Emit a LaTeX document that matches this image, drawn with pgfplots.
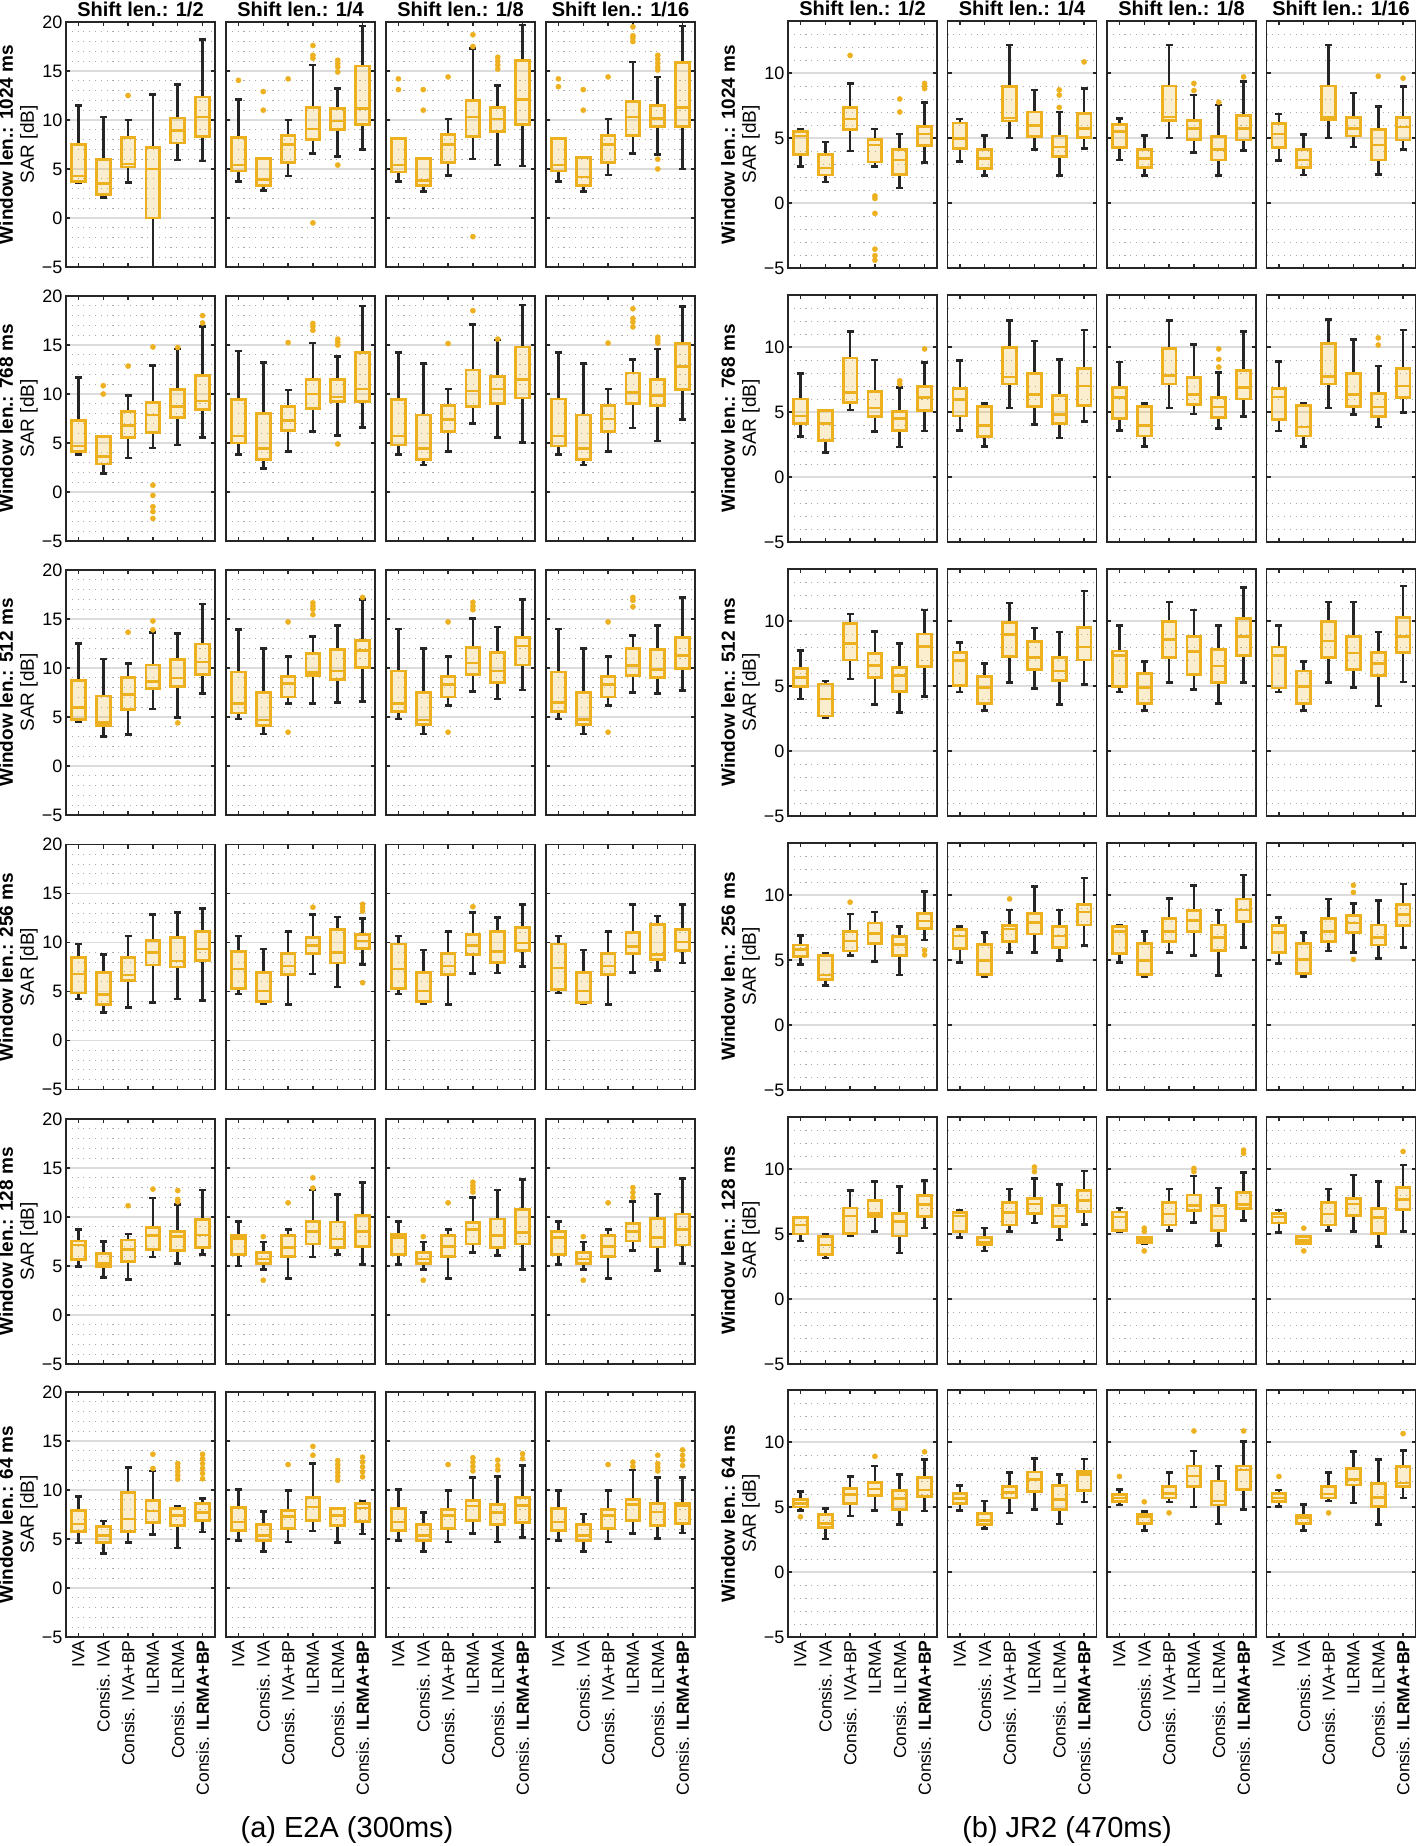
\documentclass[border=0pt]{standalone}
\usepackage{fontspec}
\setmainfont{Liberation Sans}
\usepackage{pgfplots}
\pgfplotsset{compat=1.18}
\usepgfplotslibrary{statistics}
\definecolor{bo}{HTML}{EDB120}
\definecolor{wk}{HTML}{262626}
\definecolor{gmaj}{HTML}{DCDCDC}
\definecolor{gmin}{HTML}{A8A8A8}

% one box: position, lower whisker, q1, median, q3, upper whisker
\newcommand{\bx}[6]{\addplot[boxplot prepared={draw position=#1, lower whisker=#2,
  lower quartile=#3, median=#4, upper quartile=#5, upper whisker=#6}] coordinates {};}
% outliers
\newcommand{\ol}[1]{\addplot[bo, only marks, mark=*, mark size=2.6pt,
  mark options={draw=none, fill=bo}] coordinates {#1};}

\pgfplotsset{
  sar/.style={
    scale only axis, width=149pt, anchor=north west,
    xmin=0.5, xmax=6.5, xtick={1,2,3,4,5,6}, xticklabels={},
    tick align=inside, major tick length=4pt, minor tick length=0pt,
    every tick/.style={wk, line width=1.2pt},
    axis line style={wk, line width=1.8pt},
    ymajorgrids, yminorgrids,
    major grid style={gmaj, line width=1.4pt},
    minor grid style={gmin, line width=0.9pt, dash pattern=on 1.1pt off 4.7pt},
    yticklabels={},
    ticklabel style={font=\fontsize{18}{20}\selectfont},
    /pgf/number format/assume math mode=true,
    boxplot/draw direction=y,
    boxplot/box extend=0.56, boxplot/whisker extend=0.28,
    boxplot/every box/.style={draw=bo, line width=2.8pt, fill=bo, fill opacity=0.22},
    boxplot/every whisker/.style={draw=wk, line width=2.6pt},
    boxplot/every median/.style={draw=bo, line width=2.6pt},
    ylabel style={align=center, font=\fontsize{19}{21}\selectfont, anchor=south},
    title style={font=\bfseries\fontsize{20}{22}\selectfont, at={(0.5,1)}, anchor=base, yshift=-1pt},
  },
  lft/.style={sar, height=245pt, ymin=-5, ymax=20, ytick={-5,0,5,10,15,20},
    minor ytick={-4,-3,-2,-1,1,2,3,4,6,7,8,9,11,12,13,14,16,17,18,19}},
  rgt/.style={sar, height=247pt, ymin=-5, ymax=14, ytick={-5,0,5,10},
    minor ytick={-4,-3,-2,-1,1,2,3,4,6,7,8,9,11,12,13}},
  pos/.style 2 args={at={(#1pt,-#2pt)}},
  lfirst/.style={yticklabels={−5,0,5,10,15,20},
    ylabel={\textbf{Window len.: #1 ms}\\SAR [dB]},
    ylabel style={at={(axis description cs:-0.165,0.5)}}},
  rfirst/.style={yticklabels={−5,0,5,10},
    ylabel={\textbf{Window len.: #1 ms}\\SAR [dB]},
    ylabel style={at={(axis description cs:-0.165,0.5)}}},
  bot/.style={xticklabels={IVA,Consis. IVA,Consis. IVA+BP,ILRMA,Consis. ILRMA,Consis. \textbf{ILRMA+BP}},
    xticklabel style={rotate=90, anchor=east, font=\fontsize{17.5}{19}\selectfont}},
  ttl/.style={title={Shift len.: #1}},
}

\begin{document}
\begin{tikzpicture}
\useasboundingbox (0,0) rectangle (1418pt,-1846pt);

%%%%%%%%%%%%%%%% (a) E2A %%%%%%%%%%%%%%%%
% ---- 1024 ms
\begin{axis}[lft, pos={66}{22}, lfirst=1024, ttl=1/2]
\bx{1}{3.6}{3.75}{4.3}{7.5}{11.5}
\bx{2}{2.1}{2.4}{3.5}{6.0}{10.3}
\bx{3}{3.6}{5.2}{5.5}{8.2}{10.0}
\bx{4}{-5.5}{0.0}{5.0}{7.2}{12.6}
\bx{5}{5.9}{7.65}{8.9}{10.2}{13.6}
\bx{6}{5.8}{8.3}{10.3}{12.35}{18.2}
\ol{(3,12.5)}
\end{axis}
\begin{axis}[lft, pos={226}{22}, ttl=1/4]
\bx{1}{3.7}{4.8}{5.4}{8.2}{12.1}
\bx{2}{2.8}{3.3}{3.95}{6.1}{6.1}
\bx{3}{4.3}{5.7}{7.5}{8.4}{10.0}
\bx{4}{6.6}{8.0}{9.1}{11.3}{15.6}
\bx{5}{6.3}{9.0}{9.9}{11.2}{13.2}
\bx{6}{7.0}{9.5}{11.2}{15.5}{19.6}
\ol{(1,14.05) (2,12.9) (2,11.0) (3,14.2) (4,17.6) (4,16.6) (4,16.3) (4,-0.5)
    (5,16.1) (5,15.75) (5,15.4) (5,14.9) (5,5.4)}
\end{axis}
\begin{axis}[lft, pos={386}{22}, ttl=1/8]
\bx{1}{3.7}{4.7}{5.4}{8.15}{8.15}
\bx{2}{2.7}{3.3}{3.85}{6.1}{6.1}
\bx{3}{4.35}{5.7}{7.5}{8.5}{10.1}
\bx{4}{6.0}{8.3}{10.3}{12.0}{17.3}
\bx{5}{5.4}{8.85}{10.1}{11.3}{13.5}
\bx{6}{5.3}{9.5}{12.1}{16.1}{19.7}
\ol{(1,14.2) (1,13.1) (2,13.1) (2,11.0) (3,14.4) (4,18.7) (4,17.5) (4,-1.9)
    (5,16.4) (5,16.0) (5,15.6) (5,15.2)}
\end{axis}
\begin{axis}[lft, pos={546}{22}, ttl=1/16]
\bx{1}{3.7}{4.8}{5.4}{8.1}{8.1}
\bx{2}{2.7}{3.3}{4.2}{6.2}{6.2}
\bx{3}{4.4}{5.65}{7.5}{8.45}{10.1}
\bx{4}{6.6}{8.4}{10.3}{11.9}{15.9}
\bx{5}{6.5}{9.35}{10.15}{11.5}{14.4}
\bx{6}{5.0}{9.3}{11.3}{15.85}{19.6}
\ol{(1,14.2) (1,13.4) (2,13.1) (2,11.0) (3,14.4) (4,19.5) (4,18.6) (4,18.35) (4,18.0)
    (5,16.6) (5,16.2) (5,15.8) (5,15.4) (5,15.1) (5,6.0) (5,5.0)}
\end{axis}
% ---- 768 ms
\begin{axis}[lft, pos={66}{296}, lfirst=768]
\bx{1}{3.8}{4.1}{4.7}{7.3}{11.7}
\bx{2}{1.9}{2.85}{3.6}{5.7}{5.7}
\bx{3}{3.45}{5.55}{6.8}{8.2}{9.85}
\bx{4}{4.5}{6.1}{7.85}{9.1}{12.9}
\bx{5}{4.8}{7.6}{8.7}{10.5}{14.6}
\bx{6}{5.55}{8.4}{9.3}{11.9}{16.9}
\ol{(2,10.85) (2,10.0) (3,12.85) (4,14.8) (4,0.7) (4,-0.35) (4,-1.5) (4,-2.0) (4,-2.7)
    (5,14.75) (6,18.0) (6,17.25)}
\end{axis}
\begin{axis}[lft, pos={226}{296}]
\bx{1}{3.8}{5.0}{5.7}{9.45}{14.4}
\bx{2}{2.4}{3.35}{4.45}{8.0}{13.2}
\bx{3}{4.15}{6.25}{7.3}{8.75}{10.4}
\bx{4}{6.15}{8.5}{10.0}{11.5}{15.2}
\bx{5}{5.75}{9.2}{9.7}{11.5}{13.8}
\bx{6}{6.6}{9.25}{10.5}{14.25}{19.0}
\ol{(3,15.25) (4,17.2) (4,16.9) (4,16.5) (5,15.6) (5,15.3) (5,15.0) (5,4.9)}
\end{axis}
\begin{axis}[lft, pos={386}{296}]
\bx{1}{3.85}{4.8}{5.7}{9.45}{14.25}
\bx{2}{2.75}{3.35}{4.45}{7.85}{13.1}
\bx{3}{4.15}{6.2}{7.4}{8.8}{10.5}
\bx{4}{7.0}{8.75}{10.3}{12.45}{17.1}
\bx{5}{5.55}{9.0}{10.5}{11.75}{15.5}
\bx{6}{5.05}{9.6}{11.5}{14.8}{19.1}
\ol{(3,15.15) (4,18.5) (5,15.6)}
\end{axis}
\begin{axis}[lft, pos={546}{296}]
\bx{1}{3.85}{4.7}{5.7}{9.5}{14.25}
\bx{2}{2.75}{3.35}{4.45}{7.85}{13.1}
\bx{3}{4.15}{6.2}{7.45}{8.8}{10.5}
\bx{4}{6.55}{9.0}{10.15}{12.15}{13.55}
\bx{5}{5.2}{8.85}{9.85}{11.45}{14.6}
\bx{6}{7.4}{10.5}{12.8}{15.15}{18.95}
\ol{(3,15.2) (4,18.7) (4,17.7) (4,17.35) (4,16.85) (5,15.8) (5,15.5) (5,15.2)}
\end{axis}
% ---- 512 ms
\begin{axis}[lft, pos={66}{570}, lfirst=512]
\bx{1}{4.5}{4.75}{6.0}{8.75}{12.5}
\bx{2}{3.0}{4.1}{4.45}{7.15}{10.9}
\bx{3}{3.2}{5.75}{7.3}{9.0}{10.45}
\bx{4}{5.8}{7.9}{8.65}{10.3}{13.65}
\bx{5}{4.95}{8.1}{9.0}{10.85}{13.5}
\bx{6}{7.4}{9.35}{10.6}{12.45}{16.55}
\ol{(3,13.65) (4,14.8) (4,13.9) (5,4.4)}
\end{axis}
\begin{axis}[lft, pos={226}{570}]
\bx{1}{4.8}{5.4}{6.35}{9.6}{13.9}
\bx{2}{3.25}{4.1}{4.7}{7.5}{12.0}
\bx{3}{6.35}{7.05}{8.4}{9.1}{11.15}
\bx{4}{6.35}{9.2}{9.55}{11.45}{13.2}
\bx{5}{6.5}{8.85}{9.7}{11.9}{14.35}
\bx{6}{6.6}{10.05}{11.8}{12.8}{17.0}
\ol{(3,14.7) (3,3.45) (4,16.65) (4,16.3) (4,16.0) (4,15.45) (6,17.2)}
\end{axis}
\begin{axis}[lft, pos={386}{570}]
\bx{1}{4.8}{5.6}{6.4}{9.7}{14.0}
\bx{2}{3.25}{4.25}{4.7}{7.5}{12.0}
\bx{3}{6.2}{7.05}{8.3}{9.15}{11.15}
\bx{4}{7.6}{9.35}{10.5}{12.1}{15.05}
\bx{5}{6.85}{8.55}{9.7}{11.6}{14.2}
\bx{6}{7.75}{10.3}{12.25}{13.15}{17.0}
\ol{(3,14.7) (3,3.45) (4,16.7) (4,16.3) (4,15.95)}
\end{axis}
\begin{axis}[lft, pos={546}{570}]
\bx{1}{4.8}{5.55}{6.45}{9.6}{14.0}
\bx{2}{3.25}{4.25}{4.75}{7.5}{12.0}
\bx{3}{6.2}{7.05}{8.3}{9.15}{11.15}
\bx{4}{7.5}{9.25}{10.25}{12.0}{13.3}
\bx{5}{7.4}{9.0}{9.85}{11.85}{14.35}
\bx{6}{7.7}{9.95}{11.3}{13.15}{17.2}
\ol{(3,14.7) (3,3.45) (4,17.2) (4,16.9) (4,16.25)}
\end{axis}
% ---- 256 ms
\begin{axis}[lft, pos={66}{844.5}, lfirst=256]
\bx{1}{4.25}{4.85}{6.8}{8.5}{9.85}
\bx{2}{2.85}{3.65}{4.7}{6.9}{8.8}
\bx{3}{3.35}{6.15}{6.7}{8.5}{10.65}
\bx{4}{3.9}{7.7}{9.0}{10.2}{12.85}
\bx{5}{4.25}{7.5}{8.1}{10.5}{13.05}
\bx{6}{4.1}{8.2}{9.35}{11.15}{13.5}
\end{axis}
\begin{axis}[lft, pos={226}{844.5}]
\bx{1}{4.75}{5.3}{7.3}{9.1}{10.65}
\bx{2}{3.8}{4.0}{5.05}{6.9}{9.35}
\bx{3}{3.65}{6.7}{7.6}{8.9}{11.15}
\bx{4}{6.8}{8.85}{9.7}{10.55}{12.85}
\bx{5}{5.45}{7.9}{9.0}{11.35}{12.6}
\bx{6}{7.75}{9.35}{10.15}{10.85}{12.45}
\ol{(4,13.6) (6,13.9) (6,13.55) (6,13.2) (6,5.9)}
\end{axis}
\begin{axis}[lft, pos={386}{844.5}]
\bx{1}{4.75}{5.3}{7.3}{9.85}{10.65}
\bx{2}{3.75}{4.0}{5.05}{6.9}{9.25}
\bx{3}{3.65}{6.7}{7.6}{8.9}{11.15}
\bx{4}{6.85}{8.8}{9.7}{10.85}{13.05}
\bx{5}{6.9}{7.95}{9.1}{11.1}{12.55}
\bx{6}{7.55}{9.15}{9.95}{11.55}{13.85}
\ol{(4,13.65)}
\end{axis}
\begin{axis}[lft, pos={546}{844.5}]
\bx{1}{4.85}{5.2}{7.4}{9.85}{10.65}
\bx{2}{3.8}{3.9}{5.05}{6.9}{9.25}
\bx{3}{3.65}{6.7}{7.6}{8.9}{11.15}
\bx{4}{6.95}{8.85}{9.6}{11.0}{13.85}
\bx{5}{7.15}{8.25}{8.75}{11.85}{12.7}
\bx{6}{7.9}{9.15}{10.05}{11.3}{13.85}
\end{axis}
% ---- 128 ms
\begin{axis}[lft, pos={66}{1119}, lfirst=128]
\bx{1}{4.95}{5.7}{7.15}{7.55}{8.75}
\bx{2}{3.8}{4.95}{5.25}{6.3}{7.5}
\bx{3}{3.65}{5.5}{6.7}{7.65}{8.25}
\bx{4}{5.9}{6.7}{8.1}{8.95}{11.95}
\bx{5}{5.25}{6.55}{8.0}{8.55}{11.3}
\bx{6}{6.2}{6.9}{8.15}{9.75}{12.75}
\ol{(3,11.15) (4,12.85) (5,12.7) (5,11.8) (5,11.55)}
\end{axis}
\begin{axis}[lft, pos={226}{1119}]
\bx{1}{5.0}{6.2}{7.8}{8.1}{9.55}
\bx{2}{4.65}{5.25}{5.7}{6.35}{7.45}
\bx{3}{3.75}{5.95}{6.9}{8.1}{8.75}
\bx{4}{5.9}{7.25}{8.5}{9.55}{12.75}
\bx{5}{6.2}{6.85}{7.75}{9.5}{12.3}
\bx{6}{5.15}{7.0}{8.5}{10.15}{13.5}
\ol{(2,8.0) (2,3.55) (3,11.45) (4,14.0) (4,12.95)}
\end{axis}
\begin{axis}[lft, pos={386}{1119}]
\bx{1}{5.15}{6.15}{7.9}{8.25}{9.55}
\bx{2}{4.65}{5.25}{5.7}{6.35}{7.45}
\bx{3}{3.75}{5.95}{7.0}{8.1}{8.75}
\bx{4}{6.35}{7.25}{8.7}{9.4}{12.0}
\bx{5}{6.1}{6.9}{8.1}{9.8}{12.75}
\bx{6}{4.65}{7.25}{8.4}{10.8}{13.8}
\ol{(2,8.0) (2,3.55) (3,11.45) (4,13.55) (4,13.2) (4,12.9) (4,12.55)}
\end{axis}
\begin{axis}[lft, pos={546}{1119}]
\bx{1}{5.15}{6.15}{7.9}{8.5}{9.55}
\bx{2}{4.65}{5.25}{5.7}{6.35}{7.45}
\bx{3}{3.75}{5.95}{7.0}{8.1}{8.75}
\bx{4}{6.6}{7.55}{8.5}{9.3}{11.6}
\bx{5}{4.55}{6.95}{7.9}{9.85}{12.35}
\bx{6}{5.25}{7.15}{8.7}{10.3}{13.9}
\ol{(2,8.0) (2,3.55) (3,11.45) (4,13.0) (4,12.5) (4,12.0)}
\end{axis}
% ---- 64 ms
\begin{axis}[lft, pos={66}{1392}, lfirst=64, bot]
\bx{1}{4.6}{5.8}{6.55}{7.95}{9.35}
\bx{2}{3.55}{4.65}{5.35}{6.3}{6.85}
\bx{3}{4.65}{5.8}{7.05}{9.75}{12.3}
\bx{4}{5.45}{6.65}{7.85}{8.9}{11.95}
\bx{5}{4.1}{6.35}{7.4}{8.15}{8.35}
\bx{6}{5.7}{6.85}{7.7}{8.6}{9.15}
\ol{(4,13.65) (4,12.2) (5,12.7) (5,12.3) (5,11.9) (5,11.5) (5,11.1)
    (6,13.65) (6,13.2) (6,12.7) (6,12.2) (6,11.7) (6,11.15)}
\end{axis}
\begin{axis}[lft, pos={226}{1392}, bot]
\bx{1}{4.85}{5.9}{6.75}{8.2}{10.05}
\bx{2}{3.75}{4.85}{5.35}{6.45}{7.8}
\bx{3}{4.7}{6.1}{7.3}{7.95}{9.95}
\bx{4}{5.8}{6.85}{8.25}{9.2}{12.7}
\bx{5}{4.65}{6.4}{7.4}{8.1}{8.15}
\bx{6}{5.5}{6.8}{8.15}{8.65}{8.8}
\ol{(3,12.6) (4,14.45) (4,13.55) (5,13.0) (5,12.6) (5,12.2) (5,11.8) (5,11.4) (5,11.0)
    (6,13.35) (6,12.85) (6,12.35) (6,11.85) (6,11.35)}
\end{axis}
\begin{axis}[lft, pos={386}{1392}, bot]
\bx{1}{4.85}{5.9}{6.75}{8.15}{10.05}
\bx{2}{3.75}{4.85}{5.35}{6.45}{7.7}
\bx{3}{4.7}{6.1}{7.4}{8.0}{9.95}
\bx{4}{5.55}{6.9}{8.35}{8.9}{11.25}
\bx{5}{4.7}{6.45}{7.7}{8.55}{11.35}
\bx{6}{5.15}{6.65}{8.45}{9.2}{12.5}
\ol{(3,12.6) (4,13.3) (4,12.85) (4,12.4) (4,11.95) (5,13.05) (5,12.5) (5,12.05)
    (6,13.7) (6,13.2)}
\end{axis}
\begin{axis}[lft, pos={546}{1392}, bot]
\bx{1}{4.85}{5.9}{6.75}{8.15}{9.95}
\bx{2}{3.75}{4.85}{5.35}{6.45}{7.55}
\bx{3}{4.7}{6.1}{7.4}{8.0}{9.95}
\bx{4}{5.55}{6.9}{8.5}{9.05}{12.05}
\bx{5}{5.05}{6.4}{7.75}{8.6}{11.25}
\bx{6}{5.6}{6.55}{8.45}{8.65}{11.25}
\ol{(3,12.6) (4,12.85) (4,12.4) (5,13.55) (5,12.7) (5,12.3) (5,11.95)
    (6,14.1) (6,13.55) (6,13.05) (6,12.5)}
\end{axis}

%%%%%%%%%%%%%%%% (b) JR2 %%%%%%%%%%%%%%%%
% ---- 1024 ms
\begin{axis}[rgt, pos={788}{21}, rfirst=1024, ttl=1/2]
\bx{1}{2.8}{3.7}{5.15}{5.5}{5.65}
\bx{2}{1.6}{2.15}{2.7}{3.75}{4.7}
\bx{3}{4.0}{5.65}{6.45}{7.35}{9.2}
\bx{4}{2.8}{3.15}{4.45}{4.9}{5.7}
\bx{5}{1.15}{2.2}{3.3}{4.1}{5.3}
\bx{6}{3.1}{4.4}{5.3}{5.9}{7.75}
\ol{(3,11.35) (4,0.55) (4,0.35) (4,-0.8) (4,-3.55) (4,-4.05) (4,-4.4)
    (5,8.0) (5,7.0) (6,9.2) (6,9.0) (6,8.8)}
\end{axis}
\begin{axis}[rgt, pos={947.5}{21}, ttl=1/4]
\bx{1}{3.2}{4.2}{4.95}{6.15}{6.45}
\bx{2}{2.1}{2.65}{3.4}{4.1}{5.2}
\bx{3}{5.0}{6.3}{6.55}{8.95}{12.15}
\bx{4}{4.1}{5.1}{5.95}{7.0}{8.7}
\bx{5}{2.1}{3.6}{4.3}{5.15}{7.0}
\bx{6}{4.2}{5.05}{5.75}{6.9}{8.8}
\ol{(5,8.7) (5,8.3) (5,7.35) (6,10.85)}
\end{axis}
\begin{axis}[rgt, pos={1107}{21}, ttl=1/8]
\bx{1}{3.3}{4.25}{5.5}{6.05}{6.5}
\bx{2}{2.1}{2.7}{3.4}{4.1}{5.2}
\bx{3}{5.0}{6.35}{6.6}{9.0}{12.15}
\bx{4}{3.9}{4.9}{5.75}{6.35}{8.3}
\bx{5}{2.1}{3.3}{4.1}{5.1}{7.55}
\bx{6}{4.05}{4.85}{5.75}{6.75}{9.35}
\ol{(4,9.2) (4,8.65) (5,7.75) (6,9.7)}
\end{axis}
\begin{axis}[rgt, pos={1266.5}{21}, ttl=1/16]
\bx{1}{3.25}{4.25}{5.3}{6.1}{6.85}
\bx{2}{2.15}{2.75}{3.3}{4.1}{5.25}
\bx{3}{5.0}{6.4}{6.6}{9.0}{12.15}
\bx{4}{4.3}{5.15}{5.75}{6.55}{8.45}
\bx{5}{2.2}{3.3}{4.45}{5.65}{7.4}
\bx{6}{4.1}{4.85}{5.85}{6.6}{8.95}
\ol{(5,9.75) (6,9.6)}
\end{axis}
% ---- 768 ms
\begin{axis}[rgt, pos={788}{295}, rfirst=768]
\bx{1}{3.1}{4.1}{4.7}{6.0}{7.95}
\bx{2}{1.9}{2.8}{4.1}{5.1}{5.15}
\bx{3}{5.15}{5.75}{6.5}{9.15}{11.2}
\bx{4}{3.5}{4.65}{5.3}{6.55}{9.0}
\bx{5}{2.3}{3.6}{4.5}{5.05}{6.9}
\bx{6}{3.55}{5.1}{6.1}{6.95}{8.8}
\ol{(5,7.4) (5,7.15) (6,9.85)}
\end{axis}
\begin{axis}[rgt, pos={947.5}{295}]
\bx{1}{3.6}{4.7}{5.95}{6.8}{8.95}
\bx{2}{2.35}{3.1}{3.95}{5.4}{5.65}
\bx{3}{5.3}{7.15}{7.7}{9.95}{12.05}
\bx{4}{4.05}{5.4}{6.35}{7.95}{10.45}
\bx{5}{3.0}{4.1}{4.8}{6.25}{9.05}
\bx{6}{4.25}{5.5}{7.0}{8.35}{11.3}
\end{axis}
\begin{axis}[rgt, pos={1107}{295}]
\bx{1}{3.6}{4.5}{6.1}{6.9}{8.85}
\bx{2}{2.35}{3.15}{3.95}{5.4}{5.65}
\bx{3}{5.3}{7.15}{7.8}{9.9}{12.05}
\bx{4}{4.85}{5.6}{6.35}{7.65}{10.2}
\bx{5}{3.75}{4.55}{5.4}{6.1}{8.05}
\bx{6}{4.65}{6.0}{6.9}{8.2}{11.2}
\ol{(5,9.85) (5,9.05) (5,8.45)}
\end{axis}
\begin{axis}[rgt, pos={1266.5}{295}]
\bx{1}{3.55}{4.4}{6.15}{6.8}{8.9}
\bx{2}{2.35}{3.15}{3.85}{5.5}{5.7}
\bx{3}{5.3}{7.15}{7.75}{10.25}{12.1}
\bx{4}{4.8}{5.4}{6.35}{7.95}{10.6}
\bx{5}{3.85}{4.65}{5.4}{6.45}{8.55}
\bx{6}{4.95}{6.1}{7.0}{8.35}{11.3}
\ol{(5,10.7) (5,10.15)}
\end{axis}
% ---- 512 ms
\begin{axis}[rgt, pos={788}{569}, rfirst=512]
\bx{1}{4.0}{4.95}{5.65}{6.35}{7.75}
\bx{2}{2.55}{2.7}{4.0}{5.15}{5.4}
\bx{3}{5.55}{7.0}{8.25}{9.8}{10.55}
\bx{4}{3.6}{5.65}{6.6}{7.5}{9.2}
\bx{5}{2.95}{4.6}{5.8}{6.45}{8.25}
\bx{6}{4.2}{6.5}{8.05}{9.0}{10.85}
\end{axis}
\begin{axis}[rgt, pos={947.5}{569}]
\bx{1}{4.55}{5.05}{6.95}{7.6}{8.35}
\bx{2}{3.1}{3.65}{4.9}{5.75}{6.75}
\bx{3}{5.25}{7.3}{8.95}{9.9}{11.4}
\bx{4}{4.8}{6.3}{7.2}{8.45}{9.45}
\bx{5}{3.6}{5.4}{6.15}{7.2}{9.15}
\bx{6}{5.1}{7.0}{8.0}{9.5}{12.3}
\end{axis}
\begin{axis}[rgt, pos={1107}{569}]
\bx{1}{4.55}{4.95}{7.35}{7.7}{9.65}
\bx{2}{3.1}{3.65}{4.9}{5.95}{6.9}
\bx{3}{5.25}{7.2}{8.6}{9.95}{11.45}
\bx{4}{4.75}{5.9}{7.65}{8.8}{10.85}
\bx{5}{3.65}{5.25}{6.55}{7.8}{9.65}
\bx{6}{5.25}{7.35}{8.8}{10.2}{12.6}
\end{axis}
\begin{axis}[rgt, pos={1266.5}{569}]
\bx{1}{4.55}{4.85}{7.35}{8.0}{9.65}
\bx{2}{3.1}{3.65}{4.95}{6.15}{6.9}
\bx{3}{5.25}{7.2}{8.45}{9.95}{11.45}
\bx{4}{4.9}{6.3}{7.55}{8.8}{11.45}
\bx{5}{3.45}{5.8}{6.75}{7.6}{9.15}
\bx{6}{5.3}{7.55}{8.8}{10.25}{12.7}
\end{axis}
% ---- 256 ms
\begin{axis}[rgt, pos={788}{843}, rfirst=256]
\bx{1}{4.65}{5.25}{5.8}{6.15}{6.9}
\bx{2}{3.05}{3.5}{3.85}{5.35}{5.55}
\bx{3}{5.35}{5.7}{6.45}{7.2}{8.55}
\bx{4}{4.9}{6.3}{7.05}{7.85}{8.7}
\bx{5}{3.85}{5.35}{6.2}{6.8}{7.6}
\bx{6}{6.55}{7.4}{8.0}{8.6}{10.25}
\ol{(3,9.45) (6,5.75) (6,5.4)}
\end{axis}
\begin{axis}[rgt, pos={947.5}{843}]
\bx{1}{4.8}{5.9}{6.85}{7.35}{7.6}
\bx{2}{3.75}{3.9}{4.95}{6.2}{7.1}
\bx{3}{5.6}{6.45}{7.4}{7.65}{8.85}
\bx{4}{5.6}{7.0}{7.9}{8.6}{10.65}
\bx{5}{4.95}{5.95}{6.85}{7.6}{8.85}
\bx{6}{6.1}{7.7}{8.7}{9.3}{11.3}
\ol{(3,9.7)}
\end{axis}
\begin{axis}[rgt, pos={1107}{843}]
\bx{1}{4.8}{5.5}{7.2}{7.6}{7.7}
\bx{2}{3.75}{3.9}{4.95}{6.3}{7.2}
\bx{3}{5.6}{6.4}{7.2}{8.2}{9.75}
\bx{4}{5.35}{7.2}{8.05}{8.8}{10.75}
\bx{5}{3.8}{5.75}{6.75}{7.7}{8.85}
\bx{6}{5.95}{7.95}{8.85}{9.7}{11.55}
\end{axis}
\begin{axis}[rgt, pos={1266.5}{843}]
\bx{1}{4.75}{5.6}{7.1}{7.65}{8.25}
\bx{2}{3.75}{3.95}{5.05}{6.3}{7.1}
\bx{3}{5.7}{6.4}{7.2}{8.2}{9.7}
\bx{4}{5.6}{7.1}{7.85}{8.4}{9.35}
\bx{5}{5.1}{6.15}{6.75}{7.7}{9.6}
\bx{6}{5.95}{7.65}{8.5}{9.3}{10.85}
\ol{(4,10.75) (4,10.2) (4,5.05)}
\end{axis}
% ---- 128 ms
\begin{axis}[rgt, pos={788}{1117}, rfirst=128]
\bx{1}{4.45}{5.0}{5.7}{6.25}{6.3}
\bx{2}{3.15}{3.4}{4.15}{4.8}{4.95}
\bx{3}{4.85}{5.05}{6.4}{7.0}{8.35}
\bx{4}{5.2}{6.35}{6.6}{7.6}{9.05}
\bx{5}{3.55}{4.85}{5.95}{6.55}{8.65}
\bx{6}{5.45}{6.35}{7.25}{7.95}{9.1}
\end{axis}
\begin{axis}[rgt, pos={947.5}{1117}]
\bx{1}{4.75}{5.2}{6.4}{6.65}{6.8}
\bx{2}{3.7}{4.2}{4.4}{4.75}{5.45}
\bx{3}{5.2}{5.7}{6.65}{7.4}{8.45}
\bx{4}{5.85}{6.6}{7.3}{7.75}{9.25}
\bx{5}{4.55}{5.6}{6.4}{7.2}{8.8}
\bx{6}{5.75}{6.75}{7.6}{8.35}{9.85}
\ol{(4,10.15) (4,9.8)}
\end{axis}
\begin{axis}[rgt, pos={1107}{1117}]
\bx{1}{5.15}{5.3}{6.3}{6.7}{7.0}
\bx{2}{4.25}{4.35}{4.55}{4.75}{4.75}
\bx{3}{5.25}{5.7}{6.55}{7.4}{8.45}
\bx{4}{5.9}{6.8}{7.2}{8.0}{9.45}
\bx{5}{4.1}{5.25}{6.4}{7.2}{8.55}
\bx{6}{6.05}{6.95}{7.25}{8.2}{9.75}
\ol{(2,5.45) (2,5.2) (2,3.7) (4,10.05) (4,9.8) (6,11.45) (6,11.2)}
\end{axis}
\begin{axis}[rgt, pos={1266.5}{1117}]
\bx{1}{5.1}{5.85}{6.3}{6.6}{6.85}
\bx{2}{4.25}{4.3}{4.5}{4.8}{4.85}
\bx{3}{5.25}{5.7}{6.55}{7.4}{8.45}
\bx{4}{5.2}{6.45}{7.3}{7.75}{9.55}
\bx{5}{4.05}{5.05}{6.25}{6.95}{9.05}
\bx{6}{5.2}{6.9}{7.65}{8.6}{10.3}
\ol{(2,5.45) (2,3.7) (6,11.35)}
\end{axis}
% ---- 64 ms
\begin{axis}[rgt, pos={788}{1390}, rfirst=64, bot]
\bx{1}{4.75}{5.0}{5.25}{5.55}{6.2}
\bx{2}{2.55}{3.45}{3.75}{4.4}{4.9}
\bx{3}{4.3}{5.25}{5.95}{6.45}{7.35}
\bx{4}{4.75}{5.9}{6.4}{6.9}{8.15}
\bx{5}{3.65}{4.8}{5.65}{6.3}{7.5}
\bx{6}{4.7}{5.8}{6.3}{7.25}{8.65}
\ol{(1,4.25) (4,8.9) (6,9.25)}
\end{axis}
\begin{axis}[rgt, pos={947.5}{1390}, bot]
\bx{1}{4.75}{5.3}{5.65}{6.05}{6.65}
\bx{2}{3.35}{3.65}{3.95}{4.5}{5.45}
\bx{3}{4.55}{5.7}{6.1}{6.6}{7.65}
\bx{4}{4.8}{6.2}{7.1}{7.7}{8.75}
\bx{5}{3.7}{4.8}{5.6}{6.65}{7.5}
\bx{6}{5.4}{6.3}{7.5}{7.75}{8.7}
\end{axis}
\begin{axis}[rgt, pos={1107}{1390}, bot]
\bx{1}{5.15}{5.45}{5.7}{5.95}{6.35}
\bx{2}{3.2}{3.75}{4.25}{4.45}{4.65}
\bx{3}{5.4}{5.7}{6.05}{6.6}{7.65}
\bx{4}{5.0}{6.6}{7.4}{8.15}{9.3}
\bx{5}{3.7}{5.15}{5.45}{7.0}{8.15}
\bx{6}{4.8}{6.35}{7.85}{8.15}{10.05}
\ol{(1,7.35) (2,5.4) (3,4.55) (4,10.85) (6,10.85)}
\end{axis}
\begin{axis}[rgt, pos={1266.5}{1390}, bot]
\bx{1}{5.05}{5.45}{5.7}{6.05}{6.3}
\bx{2}{3.2}{3.75}{4.15}{4.35}{5.2}
\bx{3}{5.45}{5.7}{6.0}{6.6}{7.65}
\bx{4}{5.3}{6.7}{7.1}{7.95}{9.25}
\bx{5}{3.65}{5.05}{5.75}{6.8}{8.65}
\bx{6}{5.7}{6.55}{6.85}{8.1}{9.35}
\ol{(1,7.35) (3,4.55) (6,10.65)}
\end{axis}

\node[font=\fontsize{29}{32}\selectfont] at (347pt,-1830pt) {(a) E2A (300ms)};
\node[font=\fontsize{29}{32}\selectfont] at (1067pt,-1830pt) {(b) JR2 (470ms)};
\end{tikzpicture}
\end{document}
